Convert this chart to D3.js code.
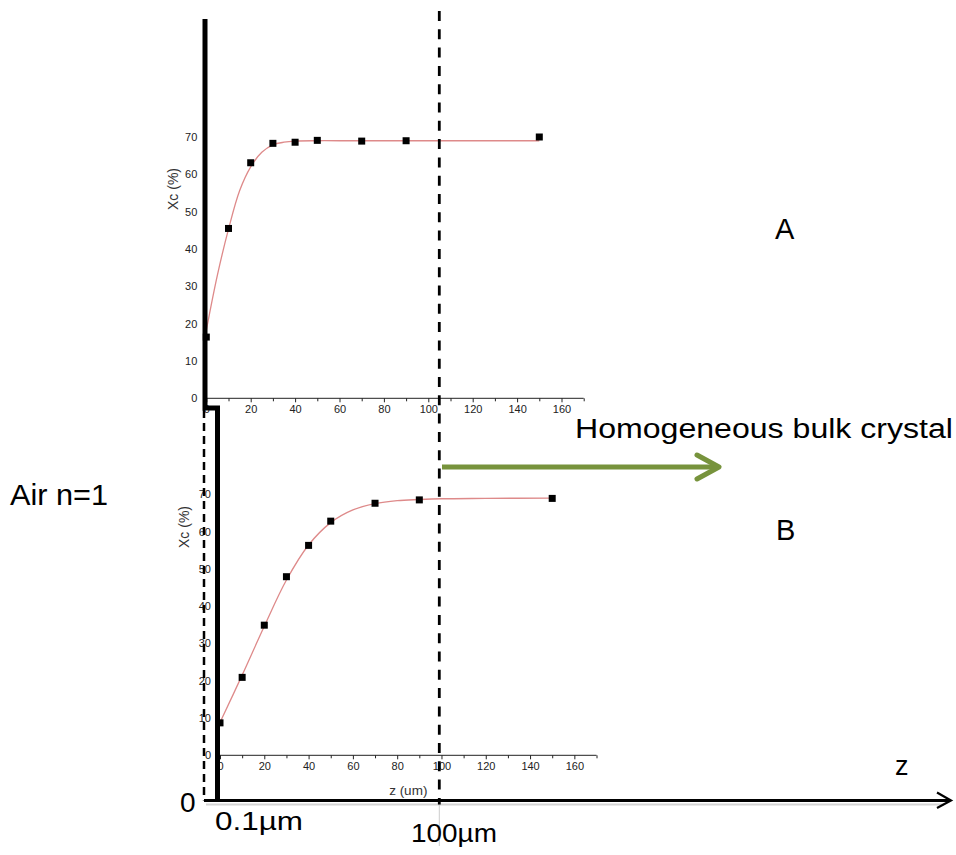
<!DOCTYPE html>
<html>
<head>
<meta charset="utf-8">
<script src="https://cdn.jsdelivr.net/npm/d3@7"></script>
<style>
  body { margin: 0; background: #fff; }
  svg text { font-family: "Liberation Sans", Arial, sans-serif; }
  .tick text { font-size: 11px; fill: #222; }
  .tick line, .domain { stroke: #222; }
</style>
</head>
<body>
<div id="container"></div>
<script>
const w = 956;
const h = 855;

// Chart A (top) - measured points and fitted curve
const zA = [0, 10, 20, 30, 40, 50, 70, 90, 150];
const xcA = [16.4, 45.5, 63.1, 68.3, 68.6, 69.1, 68.9, 69.0, 70.0];
const fitZA = [0, 5, 10, 15, 20, 25, 30, 35, 40, 50, 60, 100, 150];
const fitXcA = [18.2, 33.0, 45.3, 55.6, 62.0, 65.9, 67.9, 68.6, 68.9, 69.0, 69.0, 69.0, 69.0];

// Chart B (bottom)
const zB = [0, 10, 20, 30, 40, 50, 70, 90, 150];
const xcB = [8.7, 20.9, 34.9, 47.9, 56.3, 62.8, 67.6, 68.5, 68.9];
const fitZB = [0, 10, 20, 30, 40, 50, 60, 70, 80, 90, 100, 120, 150];
const fitXcB = [8.8, 21.5, 34.6, 47.0, 56.4, 62.4, 65.8, 67.5, 68.3, 68.6, 68.8, 68.9, 69.0];

const yTicks = [0, 10, 20, 30, 40, 50, 60, 70];

const svg = d3.select('#container')
              .append('svg')
              .attr('width', w)
              .attr('height', h);

// Scales
const xScaleA = d3.scaleLinear().domain([0, 170]).range([206.3, 583.7]);
const yScaleA = d3.scaleLinear().domain([0, 70]).range([398.3, 137]);
const xScaleB = d3.scaleLinear().domain([0, 170]).range([220, 596.5]);
const yScaleB = d3.scaleLinear().domain([0, 70]).range([755.3, 494.3]);

drawChart(xScaleA, yScaleA, zA, xcA, fitZA, fitXcA, { labelX: 178, labelY: 189, xLabel: null });
drawChart(xScaleB, yScaleB, zB, xcB, fitZB, fitXcB, { labelX: 189, labelY: 527, xLabel: 'z (um)' });

drawSchematic();

function drawChart(xScale, yScale, zs, xcs, fitZ, fitXc, opts) {
  const g = svg.append('g');
  const y0 = yScale(0);
  const x0 = xScale(0);

  // x axis: minor ticks every 10, labels every 20
  const xAxis = d3.axisBottom(xScale)
                  .tickValues(d3.range(0, 171, 10))
                  .tickSize(4)
                  .tickFormat(d => d % 20 === 0 && d <= 160 ? d : '');
  g.append('g')
   .attr('transform', `translate(0, ${y0})`)
   .call(xAxis)
   .call(a => a.selectAll('.tick line').attr('y2', d => d % 20 === 0 ? 4 : 3))
   .call(a => a.select('.domain').attr('d', `M${x0},0H${xScale(170)}`));

  const yAxis = d3.axisLeft(yScale)
                  .tickValues(yTicks)
                  .tickSize(3)
                  .tickPadding(6);
  g.append('g')
   .attr('transform', `translate(${x0}, 0)`)
   .call(yAxis)
   .call(a => a.select('.domain').attr('d', `M0,0V${yScale(75) - y0}`).attr('stroke-width', 1.5));

  g.append('text')
   .attr('transform', `translate(${opts.labelX}, ${opts.labelY}) rotate(-90)`)
   .attr('text-anchor', 'middle')
   .attr('font-size', 14)
   .attr('fill', '#333')
   .text('Xc (%)');

  if (opts.xLabel) {
    g.append('text')
     .attr('x', xScale(85))
     .attr('y', y0 + 40)
     .attr('text-anchor', 'middle')
     .attr('font-size', 13.5)
     .attr('fill', '#333')
     .text(opts.xLabel);
  }

  const line = d3.line()
                 .x(d => xScale(d))
                 .y((d, i) => yScale(fitXc[i]))
                 .curve(d3.curveCatmullRom.alpha(0.5));
  g.append('path')
   .datum(fitZ)
   .attr('d', line)
   .attr('fill', 'none')
   .attr('stroke', '#de8a8a')
   .attr('stroke-width', 1.3);

  g.selectAll('rect.pt')
   .data(zs)
   .enter()
   .append('rect')
   .attr('class', 'pt')
   .attr('x', d => xScale(d) - 3.5)
   .attr('y', (d, i) => yScale(xcs[i]) - 3.5)
   .attr('width', 7)
   .attr('height', 7)
   .attr('fill', '#000');
}

function drawSchematic() {
  const axisY = 800.5;
  const dashX = 439.3;

  // grey shadow under z axis and faint tail of the dashed line
  svg.append('line')
     .attr('x1', 206).attr('x2', 944).attr('y1', axisY + 4).attr('y2', axisY + 4)
     .attr('stroke', '#d4d4d4').attr('stroke-width', 2);
  svg.append('line')
     .attr('x1', dashX).attr('x2', dashX).attr('y1', axisY).attr('y2', 846)
     .attr('stroke', '#ccc').attr('stroke-width', 1);

  // interface step (thick black)
  svg.append('path')
     .attr('d', `M205,19V408H217.5V${axisY}`)
     .attr('fill', 'none')
     .attr('stroke', '#000')
     .attr('stroke-width', 5)
     .attr('stroke-linejoin', 'miter');

  // dashed lines
  svg.append('line')
     .attr('x1', 204).attr('x2', 204).attr('y1', 410).attr('y2', axisY)
     .attr('stroke', '#000').attr('stroke-width', 2.5)
     .attr('stroke-dasharray', '8,5');
  svg.append('line')
     .attr('x1', dashX).attr('x2', dashX).attr('y1', 11).attr('y2', axisY + 4)
     .attr('stroke', '#000').attr('stroke-width', 2.8)
     .attr('stroke-dasharray', '10,8.3');

  // z axis with open arrow head
  svg.append('line')
     .attr('x1', 204).attr('x2', 950).attr('y1', axisY).attr('y2', axisY)
     .attr('stroke', '#000').attr('stroke-width', 3);
  svg.append('path')
     .attr('d', `M937,${axisY - 8}L951,${axisY}L937,${axisY + 7.5}`)
     .attr('fill', 'none').attr('stroke', '#000').attr('stroke-width', 2.2);

  // bulk crystal arrow
  svg.append('line')
     .attr('x1', 442).attr('x2', 718).attr('y1', 467).attr('y2', 467)
     .attr('stroke', '#77933c').attr('stroke-width', 5);
  svg.append('path')
     .attr('d', 'M697,455L719,467L697,479')
     .attr('fill', 'none').attr('stroke', '#77933c').attr('stroke-width', 5)
     .attr('stroke-linecap', 'round').attr('stroke-linejoin', 'round');

  const labels = [
    { text: 'Air n=1', x: 10, y: 505, size: 30, len: 98 },
    { text: 'A', x: 775, y: 239, size: 29 },
    { text: 'B', x: 776, y: 540, size: 29 },
    { text: 'Homogeneous bulk crystal', x: 575, y: 438, size: 27, len: 378 },
    { text: 'z', x: 895, y: 775, size: 27 },
    { text: '0', x: 180, y: 812, size: 28 },
    { text: '0.1µm', x: 215, y: 830, size: 26, len: 88 },
    { text: '100µm', x: 411, y: 842, size: 26, len: 86 }
  ];

  svg.selectAll('text.big')
     .data(labels)
     .enter()
     .append('text')
     .attr('class', 'big')
     .attr('x', d => d.x)
     .attr('y', d => d.y)
     .attr('font-size', d => d.size)
     .attr('fill', '#000')
     .attr('textLength', d => d.len || null)
     .attr('lengthAdjust', 'spacingAndGlyphs')
     .text(d => d.text);
}
</script>
</body>
</html>
